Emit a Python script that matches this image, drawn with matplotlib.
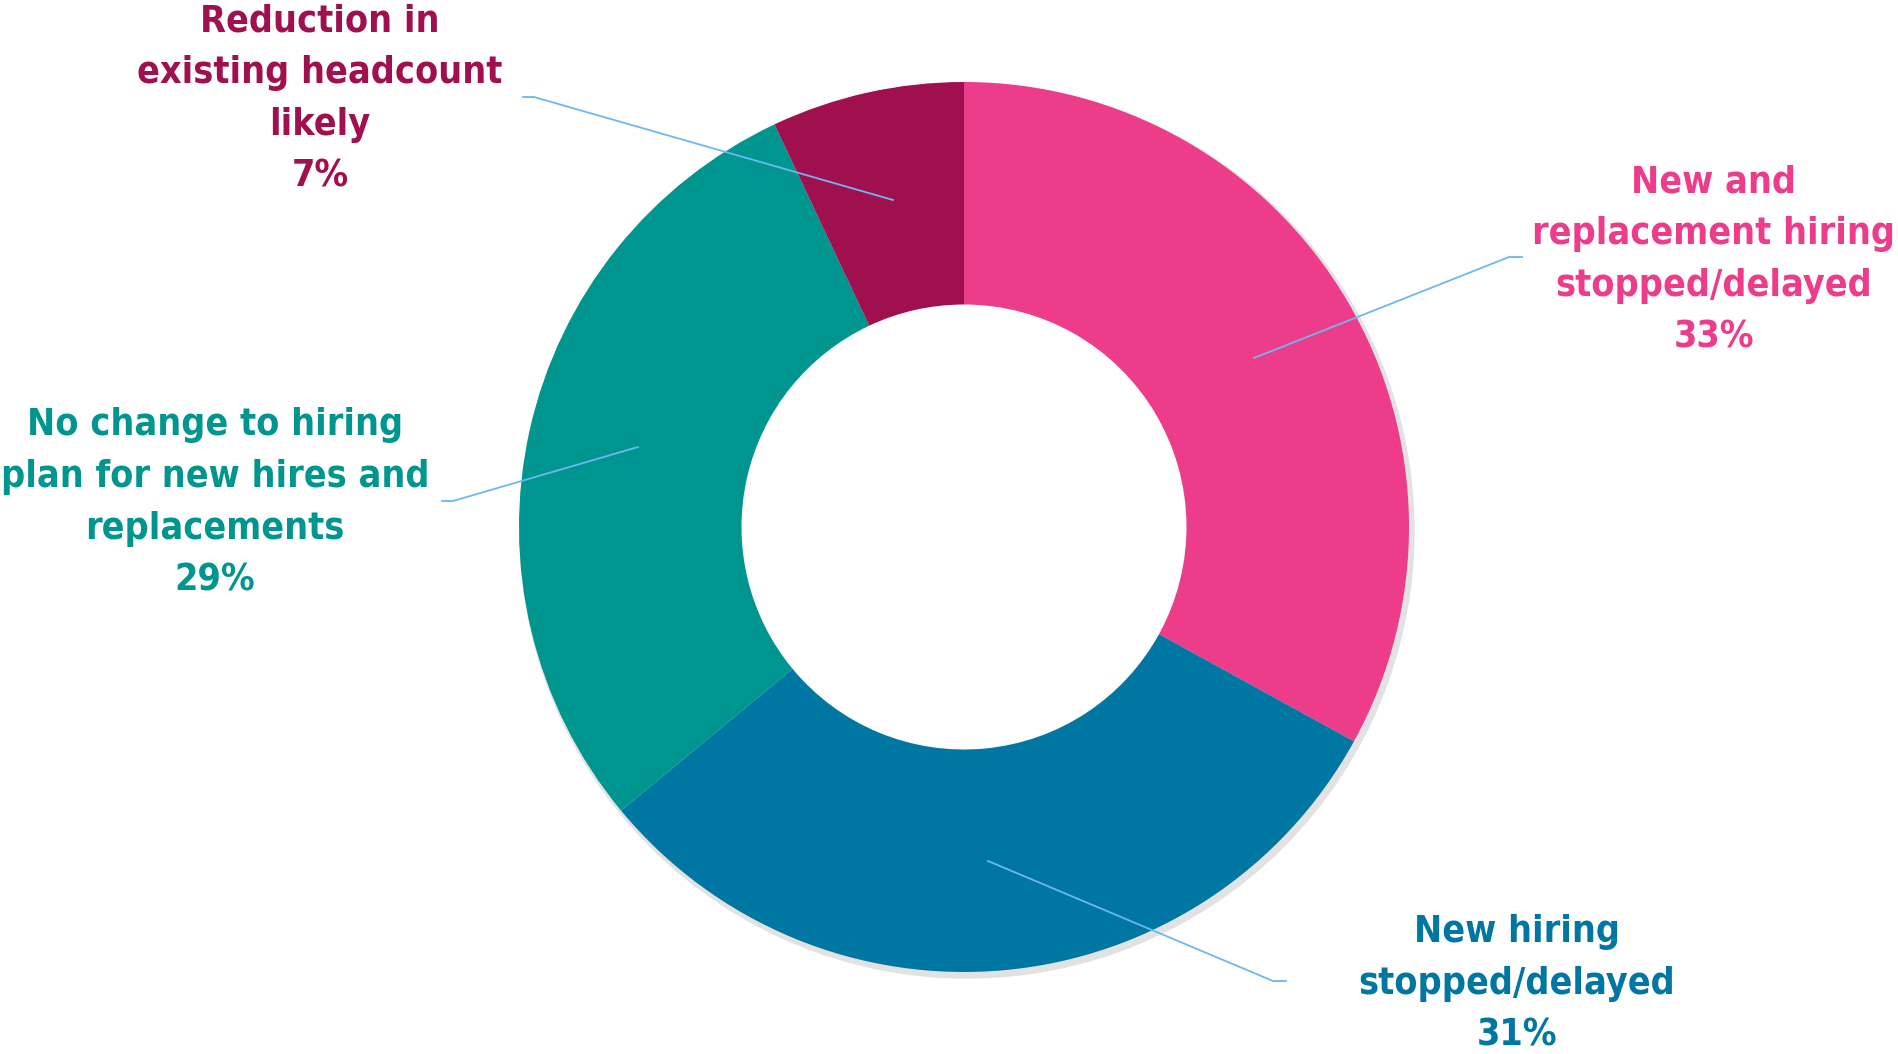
import matplotlib
matplotlib.use("Agg")
import matplotlib.pyplot as plt
from matplotlib.patches import Circle

# data
labels = ["New and\nreplacement hiring\nstopped/delayed",
          "New hiring\nstopped/delayed",
          "No change to hiring\nplan for new hires and\nreplacements",
          "Reduction in\nexisting headcount\nlikely"]
shares = [33, 31, 29, 7]
colors = ["#EC3C8A", "#0077A3", "#00968F", "#A0104F"]

W, H = 1898, 1054
cx, cy = 964, H - 527
R = 445

fig = plt.figure(figsize=(W / 100, H / 100), dpi=100)
ax = fig.add_axes([0, 0, 1, 1])

# soft shadow behind the ring
ax.add_patch(Circle((cx + 3, cy - 4), R + 2, color="#e2e2e2", zorder=0))
ax.add_patch(Circle((cx, cy), R * 0.5, color="white", zorder=0.5))

ax.pie(shares, colors=colors, startangle=90, counterclock=False,
       center=(cx, cy), radius=R, frame=True,
       wedgeprops=dict(width=R * 0.5, linewidth=0))
ax.set_xlim(0, W)
ax.set_ylim(0, H)
ax.set_aspect("equal")
ax.axis("off")

# label block positions (centre of text) and leader lines, pixel coords from top
label_pos = [(1714, 260), (1517, 984), (215, 503), (320, 99)]
leaders = [[(1254, 358), (1509, 257), (1522, 257)],
           [(988, 861), (1273, 981), (1286, 981)],
           [(638, 447), (453, 501), (442, 501)],
           [(893, 200), (534, 97), (523, 97)]]

for lab, val, col, (x, y), pts in zip(labels, shares, colors, label_pos, leaders):
    ax.text(x, H - y, f"{lab}\n{val}%", ha="center", va="center",
            color=col, fontsize=27, fontweight="bold", family="DejaVu Sans",
            fontstretch="condensed", linespacing=1.56)
    xs = [p[0] for p in pts]
    ys = [H - p[1] for p in pts]
    ax.plot(xs, ys, color="#6CB8F0", lw=1.3, zorder=5)

fig.savefig("out.png", dpi=100)
